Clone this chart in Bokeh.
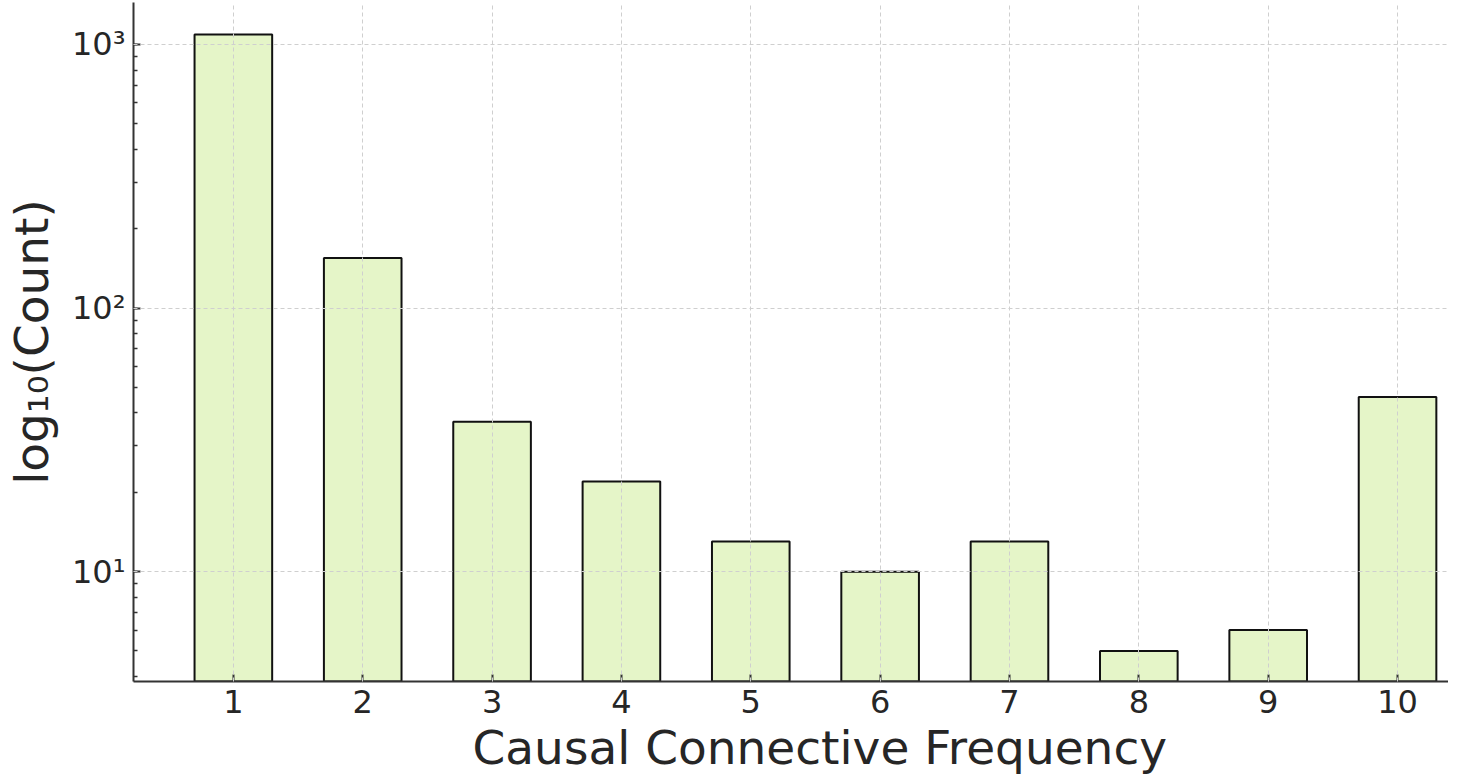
from bokeh.plotting import figure
from bokeh.models import Range1d, FixedTicker, LogTicker, ColumnDataSource, Title
from bokeh.embed import file_html
from bokeh.resources import INLINE

frequency = [1, 2, 3, 4, 5, 6, 7, 8, 9, 10]
counts = [1090, 155, 37, 22, 13, 10, 13, 5, 6, 46]
x_tick_labels = {i: str(i) for i in frequency}
y_tick_labels = {10: "10¹", 100: "10²", 1000: "10³"}
x_title = "Causal Connective Frequency"
y_title = "log₁₀(Count)"

FONT = "DejaVu Sans"
TEXT = "#262626"

src = ColumnDataSource(dict(x=frequency, top=counts, bottom=[1] * len(counts)))

p = figure(width=1448, height=776, y_axis_type="log",
           x_range=Range1d(0.228, 10.394), y_range=Range1d(3.83, 1443),
           output_backend="svg", toolbar_location=None,
           min_border_left=131, min_border_right=0, min_border_top=2,
           min_border_bottom=0)

p.vbar(x="x", top="top", bottom="bottom", width=0.6, source=src,
       fill_color="#e5f5c8", line_color="#111111", line_width=2)

p.outline_line_color = None
p.background_fill_color = "white"

p.xaxis.ticker = FixedTicker(ticks=frequency)
p.xaxis.major_label_overrides = x_tick_labels
p.yaxis.ticker = LogTicker(num_minor_ticks=10)
p.yaxis.major_label_overrides = y_tick_labels

for ax in (p.xaxis, p.yaxis):
    ax.axis_line_color = "#333333"
    ax.axis_line_width = 2
    ax.major_tick_in = 7
    ax.major_tick_out = 0
    ax.major_tick_line_color = "#333333"
    ax.major_tick_line_width = 2
    ax.minor_tick_in = 4
    ax.minor_tick_out = 0
    ax.minor_tick_line_color = "#333333"
    ax.minor_tick_line_width = 1.5
    ax.major_label_text_font = FONT
    ax.major_label_text_font_size = "32px"
    ax.major_label_text_color = TEXT
    ax.axis_label_text_font = FONT
    ax.axis_label_text_font_size = "47px"
    ax.axis_label_text_font_style = "normal"
    ax.axis_label_text_color = TEXT

p.xaxis.minor_tick_in = 0
p.xaxis.major_label_standoff = 8
p.yaxis.major_label_standoff = 8
p.yaxis.axis_label = y_title
p.yaxis.axis_label_standoff = 10

# x-axis title: the original is centred on a wider (cropped) axes, so place it left-aligned with an offset
p.add_layout(Title(text=x_title, align="left", offset=339, text_font=FONT,
                   text_font_size="47px", text_font_style="normal",
                   text_color=TEXT, standoff=4), "below")

for g in (p.xgrid, p.ygrid):
    g.grid_line_color = "#cfcfcf"
    g.grid_line_dash = "4 3"
    g.grid_line_width = 1
    g.level = "overlay"
p.ygrid.ticker = FixedTicker(ticks=[10, 100, 1000])
p.xgrid.ticker = FixedTicker(ticks=frequency)

open("out.html", "w").write(file_html(p, INLINE))
